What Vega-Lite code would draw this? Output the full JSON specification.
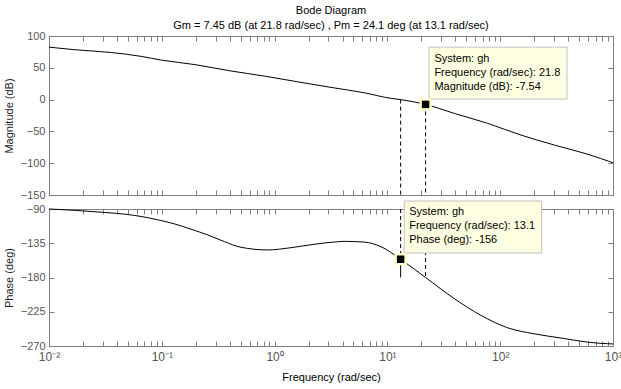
{
  "$schema": "https://vega.github.io/schema/vega-lite/v6.json",
  "padding": {"left": 3, "top": 5, "right": 9, "bottom": 4},
  "bounds": "flush",
  "spacing": 14,
  "title": {
    "text": ["Bode Diagram", "Gm = 7.45 dB (at 21.8 rad/sec) ,  Pm = 24.1 deg (at 13.1 rad/sec)"],
    "fontSize": 11, "fontWeight": "normal", "lineHeight": 15, "anchor": "middle", "frame": "group", "offset": -1, "color": "#000", "font": "Liberation Sans"
  },
  "config": {
    "font": "Liberation Sans",
    "view": {"stroke": null},
    "axis": {
      "grid": false, "domainColor": "#7f7f7f", "tickColor": "#7f7f7f", "labelColor": "#555555",
      "labelFontSize": 11, "titleFontSize": 11, "titleFontWeight": "normal", "titleColor": "#222222",
      "labelFont": "Liberation Sans", "titleFont": "Liberation Sans", "labelFlush": false, "labelOverlap": false
    }
  },
  "datasets": {
    "mag": [
      {"f": 0.01, "m": 82.5}, {"f": 0.0167, "m": 78.5}, {"f": 0.036, "m": 74}, {"f": 0.0655, "m": 68},
      {"f": 0.1, "m": 62}, {"f": 0.197, "m": 55}, {"f": 0.41, "m": 45}, {"f": 0.811, "m": 37},
      {"f": 1.6, "m": 28}, {"f": 3.16, "m": 19.2}, {"f": 6.24, "m": 10.7}, {"f": 10.8, "m": 1.9},
      {"f": 13.1, "m": 0}, {"f": 21.8, "m": -7.54}, {"f": 39.2, "m": -21.7}, {"f": 77.5, "m": -37.4},
      {"f": 153, "m": -55.8}, {"f": 303, "m": -71.5}, {"f": 599, "m": -86}, {"f": 1000, "m": -99.3}
    ],
    "phase": [
      {"f": 0.01, "p": -90}, {"f": 0.0167, "p": -91.7}, {"f": 0.0309, "p": -94.5}, {"f": 0.0465, "p": -96.7},
      {"f": 0.0655, "p": -99.8}, {"f": 0.092, "p": -104.2}, {"f": 0.129, "p": -109.5}, {"f": 0.181, "p": -116.5},
      {"f": 0.255, "p": -124}, {"f": 0.358, "p": -132.8}, {"f": 0.504, "p": -140.3}, {"f": 0.869, "p": -143.8},
      {"f": 1.4, "p": -140.8}, {"f": 2.25, "p": -136.3}, {"f": 3.62, "p": -133}, {"f": 4.15, "p": -132.5},
      {"f": 6.24, "p": -133.5}, {"f": 8.77, "p": -139.5}, {"f": 13.1, "p": -156}, {"f": 21.8, "p": -180},
      {"f": 39.2, "p": -207.8}, {"f": 67.6, "p": -229.8}, {"f": 116, "p": -246}, {"f": 200, "p": -254},
      {"f": 346, "p": -259.5}, {"f": 599, "p": -265}, {"f": 897, "p": -267}, {"f": 1000, "p": -267.3}
    ]
  },
  "vconcat": [
    {
      "width": 564, "height": 159,
      "resolve": {"axis": {"x": "independent", "y": "independent"}},
      "layer": [
        {
          "data": {"name": "mag"},
          "mark": {"type": "line", "color": "black", "strokeWidth": 1, "interpolate": "monotone"},
          "encoding": {
            "x": {"field": "f", "type": "quantitative", "scale": {"type": "log", "domain": [0.01, 1000], "nice": false},
              "axis": {"orient": "bottom", "labels": false, "title": null, "tickSize": -5,
                "values": [0.01,0.02,0.03,0.04,0.05,0.06,0.07,0.08,0.09,0.1,0.2,0.3,0.4,0.5,0.6,0.7,0.8,0.9,1,2,3,4,5,6,7,8,9,10,20,30,40,50,60,70,80,90,100,200,300,400,500,600,700,800,900,1000],
                "encode": {"ticks": {"update": {"y2": {"signal": "indexof([0.01,0.1,1,10,100,1000], datum.value) >= 0 ? -5 : -3"}}}}}},
            "y": {"field": "m", "type": "quantitative", "scale": {"domain": [-150, 100], "nice": false, "zero": false},
              "axis": {"orient": "left", "values": [-150,-100,-50,0,50,100], "title": "Magnitude (dB)", "tickSize": -5, "labelPadding": 9, "titlePadding": 6}}
          }
        },
        {
          "mark": {"type": "rule", "color": "black", "strokeWidth": 1, "strokeDash": [4, 3]},
          "encoding": {
            "y": {"datum": 0, "type": "quantitative",
              "axis": {"orient": "right", "values": [-150,-100,-50,0,50,100], "labels": false, "title": null, "tickSize": -5}}
          }
        },
        {
          "data": {"values": [{"f": 13.1, "a": 0, "b": -150}, {"f": 21.8, "a": -7.54, "b": -150}]},
          "mark": {"type": "rule", "color": "black", "strokeWidth": 1, "strokeDash": [4, 3]},
          "encoding": {
            "x": {"field": "f", "type": "quantitative",
              "axis": {"orient": "top", "labels": false, "title": null, "tickSize": -5,
                "values": [0.01,0.02,0.03,0.04,0.05,0.06,0.07,0.08,0.09,0.1,0.2,0.3,0.4,0.5,0.6,0.7,0.8,0.9,1,2,3,4,5,6,7,8,9,10,20,30,40,50,60,70,80,90,100,200,300,400,500,600,700,800,900,1000],
                "encode": {"ticks": {"update": {"y2": {"signal": "indexof([0.01,0.1,1,10,100,1000], datum.value) >= 0 ? 5 : 3"}}}}}},
            "y": {"field": "a", "type": "quantitative", "axis": null},
            "y2": {"field": "b"}
          }
        },
        {
          "data": {"values": [{"f": 21.8, "a": -7.54, "b": 0}]},
          "mark": {"type": "rule", "color": "black", "strokeWidth": 1},
          "encoding": {
            "x": {"field": "f", "type": "quantitative", "axis": null},
            "y": {"field": "a", "type": "quantitative", "axis": null},
            "y2": {"field": "b"}
          }
        },
        {
          "data": {"values": [{"x1": 23.4, "x2": 391, "y1": 82.5, "y2": 0.8}]},
          "mark": {"type": "rect", "fill": "#ffffe1", "stroke": "#c0c0c0", "strokeWidth": 1},
          "encoding": {
            "x": {"field": "x1", "type": "quantitative", "axis": null},
            "x2": {"field": "x2"},
            "y": {"field": "y1", "type": "quantitative", "axis": null},
            "y2": {"field": "y2"}
          }
        },
        {
          "data": {"values": [
            {"f": 26.1, "v": 63.2, "t": "System: gh"},
            {"f": 26.1, "v": 41.2, "t": "Frequency (rad/sec): 21.8"},
            {"f": 26.1, "v": 20.1, "t": "Magnitude (dB): -7.54"}
          ]},
          "mark": {"type": "text", "align": "left", "baseline": "middle", "fontSize": 11, "color": "black", "font": "Liberation Sans"},
          "encoding": {
            "x": {"field": "f", "type": "quantitative", "axis": null},
            "y": {"field": "v", "type": "quantitative", "axis": null},
            "text": {"field": "t"}
          }
        },
        {
          "data": {"values": [{"f": 21.8, "m": -7.54}]},
          "mark": {"type": "point", "shape": "square", "filled": true, "color": "#ffffcc", "size": 150, "opacity": 1},
          "encoding": {
            "x": {"field": "f", "type": "quantitative", "axis": null},
            "y": {"field": "m", "type": "quantitative", "axis": null}
          }
        },
        {
          "data": {"values": [{"f": 21.8, "m": -7.54}]},
          "mark": {"type": "point", "shape": "square", "filled": true, "color": "black", "size": 56, "opacity": 1},
          "encoding": {
            "x": {"field": "f", "type": "quantitative", "axis": null},
            "y": {"field": "m", "type": "quantitative", "axis": null}
          }
        }
      ]
    },
    {
      "width": 564, "height": 137,
      "resolve": {"axis": {"x": "independent", "y": "independent"}},
      "layer": [
        {
          "data": {"name": "phase"},
          "mark": {"type": "line", "color": "black", "strokeWidth": 1, "interpolate": "monotone"},
          "encoding": {
            "x": {"field": "f", "type": "quantitative", "scale": {"type": "log", "domain": [0.01, 1000], "nice": false},
              "axis": {"orient": "bottom", "title": "Frequency  (rad/sec)", "tickSize": -5, "labelPadding": 10, "titlePadding": 9, "titleColor": "#000000", "labelFontSize": 12,
                "labelExpr": "datum.value == 0.01 ? '10⁻²' : datum.value == 0.1 ? '10⁻¹' : datum.value == 1 ? '10⁰' : datum.value == 10 ? '10¹' : datum.value == 100 ? '10²' : datum.value == 1000 ? '10³' : ''",
                "values": [0.01,0.02,0.03,0.04,0.05,0.06,0.07,0.08,0.09,0.1,0.2,0.3,0.4,0.5,0.6,0.7,0.8,0.9,1,2,3,4,5,6,7,8,9,10,20,30,40,50,60,70,80,90,100,200,300,400,500,600,700,800,900,1000],
                "encode": {"ticks": {"update": {"y2": {"signal": "indexof([0.01,0.1,1,10,100,1000], datum.value) >= 0 ? -5 : -3"}}}}}},
            "y": {"field": "p", "type": "quantitative", "scale": {"domain": [-270, -90], "nice": false, "zero": false},
              "axis": {"orient": "left", "values": [-270,-225,-180,-135,-90], "title": "Phase (deg)", "tickSize": -5, "labelPadding": 9, "titlePadding": 6}}
          }
        },
        {
          "mark": {"type": "rule", "color": "black", "strokeWidth": 1, "strokeDash": [4, 3]},
          "encoding": {
            "y": {"datum": -180, "type": "quantitative",
              "axis": {"orient": "right", "values": [-270,-225,-180,-135,-90], "labels": false, "title": null, "tickSize": -5}}
          }
        },
        {
          "data": {"values": [{"f": 13.1, "a": -90, "b": -156}, {"f": 21.8, "a": -90, "b": -180}]},
          "mark": {"type": "rule", "color": "black", "strokeWidth": 1, "strokeDash": [4, 3]},
          "encoding": {
            "x": {"field": "f", "type": "quantitative",
              "axis": {"orient": "top", "labels": false, "title": null, "tickSize": -5,
                "values": [0.01,0.02,0.03,0.04,0.05,0.06,0.07,0.08,0.09,0.1,0.2,0.3,0.4,0.5,0.6,0.7,0.8,0.9,1,2,3,4,5,6,7,8,9,10,20,30,40,50,60,70,80,90,100,200,300,400,500,600,700,800,900,1000],
                "encode": {"ticks": {"update": {"y2": {"signal": "indexof([0.01,0.1,1,10,100,1000], datum.value) >= 0 ? 5 : 3"}}}}}},
            "y": {"field": "a", "type": "quantitative", "axis": null},
            "y2": {"field": "b"}
          }
        },
        {
          "data": {"values": [{"f": 13.1, "a": -156, "b": -180}]},
          "mark": {"type": "rule", "color": "black", "strokeWidth": 1},
          "encoding": {
            "x": {"field": "f", "type": "quantitative", "axis": null},
            "y": {"field": "a", "type": "quantitative", "axis": null},
            "y2": {"field": "b"}
          }
        },
        {
          "data": {"values": [{"x1": 14.1, "x2": 233, "y1": -79.5, "y2": -147.8}]},
          "mark": {"type": "rect", "fill": "#ffffe1", "stroke": "#c0c0c0", "strokeWidth": 1},
          "encoding": {
            "x": {"field": "x1", "type": "quantitative", "axis": null},
            "x2": {"field": "x2"},
            "y": {"field": "y1", "type": "quantitative", "axis": null},
            "y2": {"field": "y2"}
          }
        },
        {
          "data": {"values": [
            {"f": 15.6, "v": -93.5, "t": "System: gh"},
            {"f": 15.6, "v": -112, "t": "Frequency (rad/sec): 13.1"},
            {"f": 15.6, "v": -130.7, "t": "Phase (deg): -156"}
          ]},
          "mark": {"type": "text", "align": "left", "baseline": "middle", "fontSize": 11, "color": "black", "font": "Liberation Sans"},
          "encoding": {
            "x": {"field": "f", "type": "quantitative", "axis": null},
            "y": {"field": "v", "type": "quantitative", "axis": null},
            "text": {"field": "t"}
          }
        },
        {
          "data": {"values": [{"f": 13.1, "p": -156}]},
          "mark": {"type": "point", "shape": "square", "filled": true, "color": "#ffffcc", "size": 150, "opacity": 1},
          "encoding": {
            "x": {"field": "f", "type": "quantitative", "axis": null},
            "y": {"field": "p", "type": "quantitative", "axis": null}
          }
        },
        {
          "data": {"values": [{"f": 13.1, "p": -156}]},
          "mark": {"type": "point", "shape": "square", "filled": true, "color": "black", "size": 56, "opacity": 1},
          "encoding": {
            "x": {"field": "f", "type": "quantitative", "axis": null},
            "y": {"field": "p", "type": "quantitative", "axis": null}
          }
        }
      ]
    }
  ]
}
